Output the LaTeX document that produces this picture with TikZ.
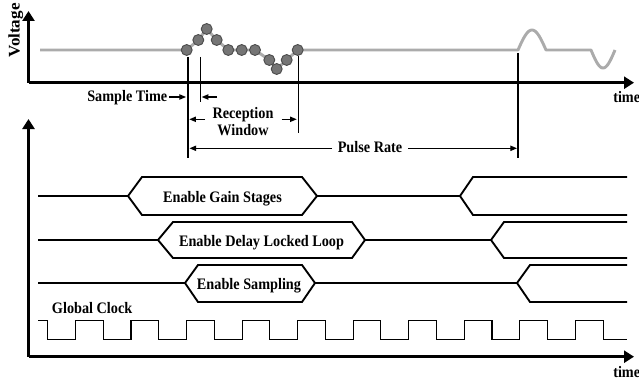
\documentclass[tikz,border=0pt]{standalone}
\usepackage{fontspec}
\usepackage{graphicx}
\setmainfont[FakeStretch=0.89]{Liberation Serif}
\newfontfamily\vfont{Liberation Serif}
\usetikzlibrary{arrows.meta}
\definecolor{sigc}{HTML}{ABABAB}
\definecolor{dotf}{HTML}{757575}
\definecolor{dotd}{HTML}{4C4C4C}
\begin{document}
\begin{tikzpicture}[x=0.75pt,y=-0.75pt,
  lbl/.style={font=\fontsize{12}{13}\selectfont\bfseries, inner sep=0pt},
  axisarrow/.style={line width=2.1pt, -{Triangle[length=7.5pt,width=9pt]}},
  sarrow/.style={line width=0.8pt, -{Triangle[length=5pt,width=4pt]}},
  boldline/.style={line width=1.6pt},
  thinline/.style={line width=0.8pt},
  hexline/.style={line width=1.4pt, line join=miter},
  sig/.style={draw=sigc, line width=2.2pt, line join=round},
  dot/.style={circle, fill=dotf, draw=dotd, line width=0.7pt, minimum size=8.2pt, inner sep=0pt}]
\useasboundingbox (0,0) rectangle (639,385);

% ---------- upper axes ----------
\coordinate (ao) at (28.5,82.7);
\coordinate (ay) at (28.5,11);
\coordinate (ax) at (634,82.7);
\draw[axisarrow] (ao) -- (ay);
\draw[axisarrow] (ao) -- (ax);
\node[rotate=90, anchor=base west, inner sep=0pt] (volt) at (19.5,58)
  {\scalebox{1}[0.95]{\vfont\fontsize{12.8}{14}\selectfont\bfseries Voltage}};
\node[lbl, anchor=base west] (time1) at (613,103) {time};

% ---------- signal ----------
\coordinate (s0) at (40,50);
\coordinate (p1) at (186.7,50);
\coordinate (p2) at (198.3,40);
\coordinate (p3) at (206.7,29);
\coordinate (p4) at (216.7,40);
\coordinate (p5) at (228.3,50);
\coordinate (p6) at (241.7,50);
\coordinate (p7) at (255,50);
\coordinate (p8) at (269.3,60);
\coordinate (p9) at (276.7,69);
\coordinate (p10) at (286.7,60);
\coordinate (p11) at (297.7,50);
\coordinate (s1) at (518,50);
\coordinate (s2) at (591,50);
\draw[sig] (s0) -- (p1) -- (p2) -- (p3) -- (p4) -- (p5) -- (p6) -- (p7) -- (p8) -- (p9) -- (p10) -- (p11) -- (s1)
  -- plot[domain=518:546, samples=30, smooth] (\x,{50-20*sin(180*(\x-518)/28)})
  -- (s2)
  -- plot[domain=591:615, samples=30, smooth] (\x,{50+18*sin(180*(\x-591)/24)});
\foreach \i in {1,...,11} { \node[dot] (d\i) at (p\i) {}; }

% ---------- markers ----------
\coordinate (m1t) at (187.7,57);   \coordinate (m1b) at (187.7,158);
\coordinate (m2t) at (200.7,57);   \coordinate (m2b) at (200.7,102);
\coordinate (m3t) at (298.3,56);   \coordinate (m3b) at (298.3,133);
\coordinate (m4t) at (518,53);     \coordinate (m4b) at (518,158);
\draw[boldline] (m1t) -- (m1b);
\draw[thinline] (m2t) -- (m2b);
\draw[thinline] (m3t) -- (m3b);
\draw[boldline] (m4t) -- (m4b);

% Sample time
\node[lbl, anchor=base west] (stime) at (87,102) {Sample Time};
\coordinate (st1) at (169,97);   \coordinate (st1e) at (186,97);
\coordinate (st2) at (217,97);   \coordinate (st2e) at (201.7,97);
\draw[sarrow] (st1) -- (st1e);
\draw[sarrow] (st2) -- (st2e);

% Reception window
\node[lbl, anchor=base] (rec) at (243,118.3) {Reception};
\node[lbl, anchor=base] (win) at (243,135) {Window};
\coordinate (rw1) at (205,119.3);   \coordinate (rw1e) at (189.3,119.3);
\coordinate (rw2) at (281.7,119.3); \coordinate (rw2e) at (296.7,119.3);
\draw[sarrow] (rw1) -- (rw1e);
\draw[sarrow] (rw2) -- (rw2e);

% Pulse rate
\node[lbl, anchor=base] (prate) at (370,152.8) {Pulse Rate};
\coordinate (pr1) at (332,148.3);  \coordinate (pr1e) at (189.5,148.3);
\coordinate (pr2) at (408,148.3);  \coordinate (pr2e) at (517,148.3);
\draw[sarrow] (pr1) -- (pr1e);
\draw[sarrow] (pr2) -- (pr2e);

% ---------- lower axes ----------
\coordinate (bo) at (28.5,356.7);
\coordinate (by) at (28.5,119);
\coordinate (bx) at (634,356.7);
\draw[axisarrow] (bo) -- (by);
\draw[axisarrow] (bo) -- (bx);
\node[lbl, anchor=base west] (time2) at (613,377.5) {time};

% ---------- Enable Gain Stages ----------
\draw[thinline] (38,196) -- (128,196);
\draw[hexline] (128,196) -- (142,177) -- (302,177) -- (317,196) -- (302,215) -- (142,215) -- cycle;
\node[lbl, anchor=base] (gain) at (222.5,202) {Enable Gain Stages};
\draw[thinline] (317,196) -- (460,196);
\draw[hexline] (627,177) -- (473,177) -- (460,196) -- (473,215) -- (627,215);

% ---------- Enable Delay Locked Loop ----------
\draw[thinline] (38,240) -- (158,240);
\draw[hexline] (158,240) -- (173,222) -- (352,222) -- (365,240) -- (352,258) -- (173,258) -- cycle;
\node[lbl, anchor=base] (dll) at (261.5,246) {Enable Delay Locked Loop};
\draw[thinline] (365,240) -- (491,240);
\draw[hexline] (627,222) -- (504,222) -- (491,240) -- (504,258) -- (627,258);

% ---------- Enable Sampling ----------
\draw[thinline] (38,283) -- (185,283);
\draw[hexline] (185,283) -- (198,265) -- (302,265) -- (315,283) -- (302,302) -- (198,302) -- cycle;
\node[lbl, anchor=base] (samp) at (249,289.5) {Enable Sampling};
\draw[thinline] (315,283) -- (517,283);
\draw[hexline] (627,265) -- (530,265) -- (517,283) -- (530,302) -- (627,302);

% ---------- Global clock ----------
\node[lbl, anchor=base west] (gclk) at (51.7,313) {Global Clock};
\draw[thinline, line join=miter] (38,320.7)
  \foreach \j in {0,...,9} {
    -- ({47.7+55.54*\j},320.7) -- ({47.7+55.54*\j},339.3)
    -- ({75.47+55.54*\j},339.3) -- ({75.47+55.54*\j},320.7) }
  -- (603.1,320.7) -- (603.1,339.3) -- (627,339.3);
\end{tikzpicture}
\end{document}
